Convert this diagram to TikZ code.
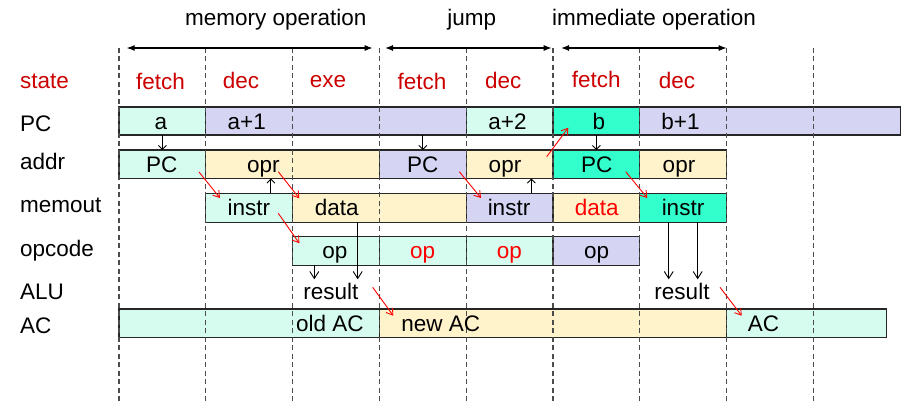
\documentclass[tikz,border=0pt]{standalone}
\usepackage{fontspec}
\setmainfont{Liberation Sans}
\usetikzlibrary{arrows.meta,calc}
\definecolor{lcyan}{RGB}{213,252,239}
\definecolor{lav}{RGB}{213,213,243}
\definecolor{lyel}{RGB}{255,243,204}
\definecolor{aqua}{RGB}{51,255,204}
\definecolor{sred}{RGB}{204,0,0}
\definecolor{bred}{RGB}{255,0,0}
\newcommand\cell[6]{\node[cellbox,fill=#6,minimum width={(#3-#2)*1pt},minimum height={(#5-#4)*1pt}] (#1) at ({(#2+#3)/2},{(#4+#5)/2}) {};}
\tikzset{
  cellbox/.style={draw=black!85,line width=1.1pt,inner sep=0pt,outer sep=0pt,rectangle},
  lbl/.style={anchor=base,inner sep=0pt},
  rowlbl/.style={anchor=base west,inner sep=0pt},
  vdash/.style={draw=black!70,line width=1.3pt,dash pattern=on 5pt off 3.5pt},
  hdrarrow/.style={{Latex[length=8pt,width=6pt]}-{Latex[length=8pt,width=6pt]},line width=1.1pt},
  blkarrow/.style={-{Straight Barb[length=4pt,width=8pt]},line width=0.9pt},
  downarrow/.style={-{Straight Barb[length=7pt,width=9pt]},line width=0.9pt},
  redarrow/.style={-{Straight Barb[length=6pt,width=8pt]},draw=bred,line width=0.9pt}
}
\begin{document}
\begin{tikzpicture}[x=1pt,y=-1pt,font=\fontsize{22.5}{27}\selectfont]
\useasboundingbox (0,0) rectangle (914,406);
% PC row
\cell{pa}{119}{205.8}{107}{135}{lcyan}
\cell{pa1}{205.8}{466.2}{107}{135}{lav}
\cell{pa2}{466.2}{553}{107}{135}{lcyan}
\cell{pb}{553}{639.8}{107}{135}{aqua}
\cell{pb1}{639.8}{900.7}{107}{135}{lav}
% addr row
\cell{apc1}{119}{205.8}{150}{178.5}{lcyan}
\cell{aopr1}{205.8}{379.4}{150}{178.5}{lyel}
\cell{apc2}{379.4}{466.2}{150}{178.5}{lav}
\cell{aopr2}{466.2}{553}{150}{178.5}{lyel}
\cell{apc3}{553}{639.8}{150}{178.5}{aqua}
\cell{aopr3}{639.8}{726.6}{150}{178.5}{lyel}
% memout row
\cell{mi1}{205.8}{292.6}{193.5}{222.5}{lcyan}
\cell{md1}{292.6}{466.2}{193.5}{222.5}{lyel}
\cell{mi2}{466.2}{553}{193.5}{222.5}{lav}
\cell{md2}{553}{639.8}{193.5}{222.5}{lyel}
\cell{mi3}{639.8}{726.6}{193.5}{222.5}{aqua}
% opcode row
\cell{op1}{292.6}{379.4}{236.5}{265.5}{lcyan}
\cell{op2}{379.4}{466.2}{236.5}{265.5}{lcyan}
\cell{op3}{466.2}{553}{236.5}{265.5}{lcyan}
\cell{op4}{553}{639.8}{236.5}{265.5}{lav}
% AC row
\cell{ac1}{119}{379.4}{309}{337.5}{lcyan}
\cell{ac2}{379.4}{726.6}{309}{337.5}{lyel}
\cell{ac3}{726.6}{886.7}{309}{337.5}{lcyan}
% dashed time lines
\foreach \xx in {119,205.8,292.6,379.4,466.2,553,639.8,726.6,813.4}
  \draw[vdash] (\xx,48) -- (\xx,403);
% header
\node[lbl] (hMem) at (275.8,26) {memory operation};
\node[lbl] (hJump) at (471.7,26) {jump};
\node[lbl] (hImm) at (654,26) {immediate operation};
\coordinate (h1a) at (126.7,48); \coordinate (h1b) at (372.7,48);
\coordinate (h2a) at (385,48);   \coordinate (h2b) at (551.7,48);
\coordinate (h3a) at (561,48);   \coordinate (h3b) at (726.7,48);
\draw[hdrarrow] (h1a) -- (h1b);
\draw[hdrarrow] (h2a) -- (h2b);
\draw[hdrarrow] (h3a) -- (h3b);
% row labels
\node[rowlbl,text=sred] (lState) at (20,89) {state};
\node[rowlbl] (lPC) at (20,131.7) {PC};
\node[rowlbl] (lAddr) at (20,170) {addr};
\node[rowlbl] (lMem) at (20,212.7) {memout};
\node[rowlbl] (lOpc) at (20,256.5) {opcode};
\node[rowlbl] (lALU) at (20,300) {ALU};
\node[rowlbl] (lAC) at (20,334) {AC};
% states
\node[lbl,text=sred] (s1) at (160.5,90) {fetch};
\node[lbl,text=sred] (s2) at (241,88.5) {dec};
\node[lbl,text=sred] (s3) at (328,87.5) {exe};
\node[lbl,text=sred] (s4) at (422,89.5) {fetch};
\node[lbl,text=sred] (s5) at (503.3,88.5) {dec};
\node[lbl,text=sred] (s6) at (596.2,87.5) {fetch};
\node[lbl,text=sred] (s7) at (677,89) {dec};
% PC texts
\node[lbl] (tpa) at (161,129.5) {a};
\node[lbl] (tpa1) at (246.7,129.5) {a+1};
\node[lbl] (tpa2) at (507.5,129.5) {a+2};
\node[lbl] (tpb) at (599,129.5) {b};
\node[lbl] (tpb1) at (680.5,129.5) {b+1};
% addr texts
\node[lbl] (tapc1) at (161.7,172.5) {PC};
\node[lbl] (taopr1) at (263.3,172.5) {opr};
\node[lbl] (tapc2) at (422.7,172.5) {PC};
\node[lbl] (taopr2) at (505,172.5) {opr};
\node[lbl] (tapc3) at (596.7,172.5) {PC};
\node[lbl] (taopr3) at (679,172.5) {opr};
% memout texts
\node[lbl] (tmi1) at (248.8,216) {instr};
\node[lbl] (tmd1) at (336.7,216) {data};
\node[lbl] (tmi2) at (509,216) {instr};
\node[lbl,text=bred] (tmd2) at (596.7,216) {data};
\node[lbl] (tmi3) at (683,216) {instr};
% opcode texts
\node[lbl] (top1) at (335,259) {op};
\node[lbl,text=bred] (top2) at (422.7,259) {op};
\node[lbl,text=bred] (top3) at (509.3,259) {op};
\node[lbl] (top4) at (596.7,259) {op};
% ALU texts
\node[lbl] (res1) at (330.8,299.3) {result};
\node[lbl] (res2) at (682,299.3) {result};
% AC texts
\node[lbl] (tac1) at (330,331.7) {old AC};
\node[lbl] (tac2) at (440.8,331.7) {new AC};
\node[lbl] (tac3) at (763.5,331.7) {AC};
% black arrows PC -> addr
\draw[blkarrow] (pa.south) -- (apc1.north);
\draw[blkarrow] (apc2.north |- pa1.south) -- (apc2.north);
\draw[blkarrow] (pb.south) -- (apc3.north);
% memout -> addr (up)
\coordinate (u1) at ($(mi1.north west)!0.75!(mi1.north east)$);
\coordinate (u2) at ($(mi2.north west)!0.75!(mi2.north east)$);
\draw[blkarrow] (u1) -- (u1 |- aopr1.south);
\draw[blkarrow] (u2) -- (u2 |- aopr2.south);
% down to ALU
\coordinate (aluTop) at (0,279.3);
\coordinate (d1) at ($(op1.south west)!0.25!(op1.south east)$);
\coordinate (d2) at ($(op1.south west)!0.75!(op1.south east)$);
\coordinate (d3) at ($(mi3.south west)!0.3333!(mi3.south east)$);
\coordinate (d4) at ($(mi3.south west)!0.6667!(mi3.south east)$);
\draw[downarrow] (d1) -- (d1 |- aluTop);
\draw[downarrow] (d2 |- md1.south) -- (d2 |- aluTop);
\draw[downarrow] (d3) -- (d3 |- aluTop);
\draw[downarrow] (d4) -- (d4 |- aluTop);
% red arrows
\coordinate (r1s) at (199,172);     \coordinate (r1e) at (220,198);
\coordinate (r2s) at (278.3,171.7); \coordinate (r2e) at (299.3,198.3);
\coordinate (r3s) at (278.3,213.3); \coordinate (r3e) at (299.3,243.3);
\coordinate (r4s) at (372.7,287.3); \coordinate (r4e) at (393.3,315.7);
\coordinate (r5s) at (459.3,171.7); \coordinate (r5e) at (481,198);
\coordinate (r6s) at (546.7,156.7); \coordinate (r6e) at (568.3,127.7);
\coordinate (r7s) at (625.7,171.7); \coordinate (r7e) at (647.3,198);
\coordinate (r8s) at (720,287.3);   \coordinate (r8e) at (741.7,315.7);
\foreach \i in {1,...,8} \draw[redarrow] (r\i s) -- (r\i e);
\end{tikzpicture}
\end{document}
